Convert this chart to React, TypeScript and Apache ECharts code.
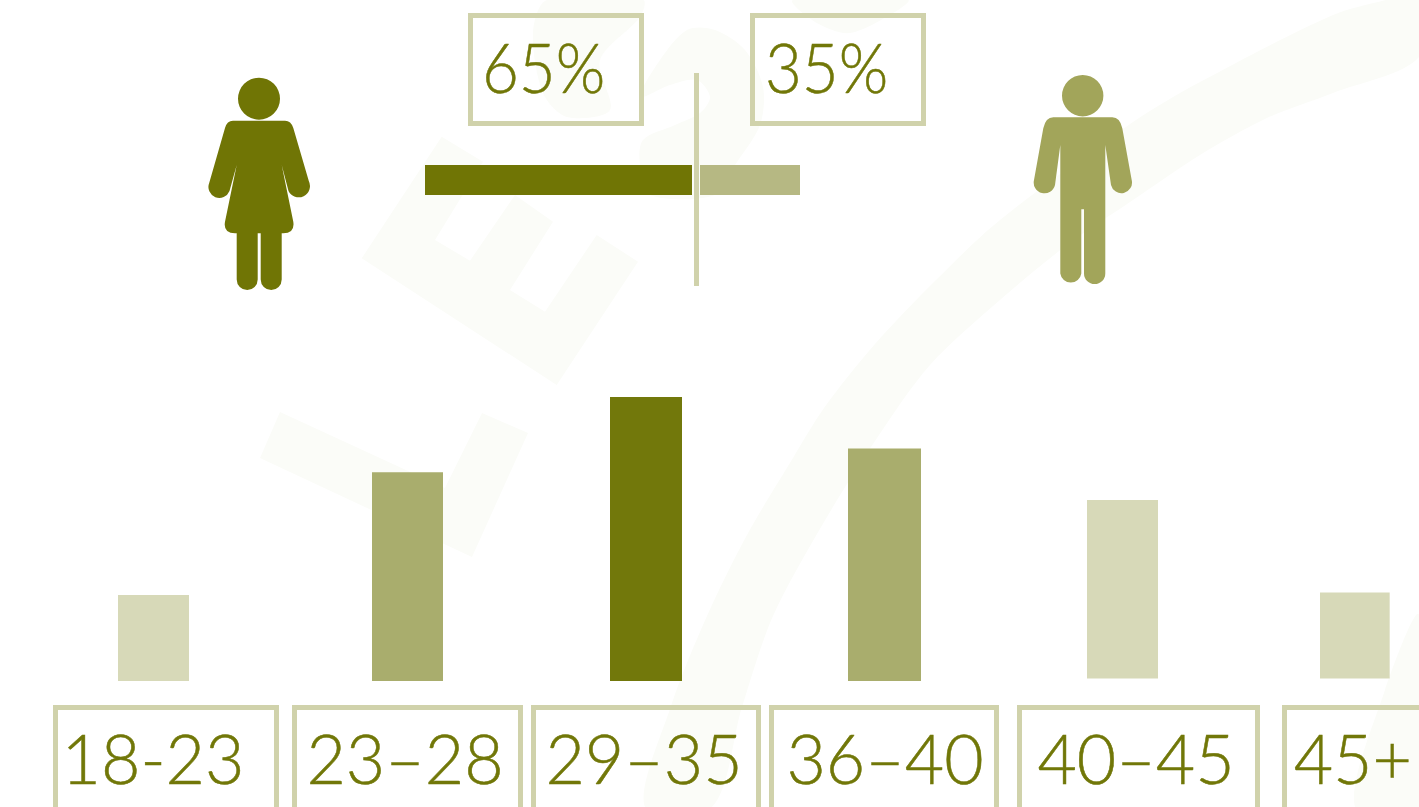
import React, { useEffect, useRef } from "react";
import * as echarts from "echarts";

const ageCategories = ["18-23", "23–28", "29–35", "36–40", "40–45", "45+"];
const ageShares = [8.0, 19.4, 26.4, 21.6, 16.6, 8.0];
const genderLabels = ["Female", "Male"];
const genderShares = [65, 35];

// layout (pixels)
const AGE_MAX = 30;
const PX_PER_UNIT = 10.76;
const barLeft = [118, 372, 610, 848, 1087, 1320];
const barWidth = [71, 71, 72, 73, 71, 71];
const barBase = [681, 681, 681, 681, 678.5, 678.5];
const labelShift = [-0.5, -2.5, -2, 0.5, 13.5, -2];
const ageBoxes = [[53, 279], [292, 523], [531, 761], [769, 999], [1017, 1260], [1282, 1460]];
const ageColors = ["#d7d9b8", "#a9ad6d", "#72780b", "#a9ad6d", "#d7d9b8", "#d7d9b8"];

const OLIVE = "#717708";
const BORDER = "#d0d2ab";
const WATERMARK = "#fbfcf8";
const FONT = "Lato";
const FONT_SIZE = 68;

const womanPath =
  "M238 98.7a21 21 0 1 0 42 0a21 21 0 1 0 -42 0Z" +
  "M233 120.7L285 120.7Q291 120.7 293.3 128L308.8 181A10.7 10.7 0 0 1 288.5 191L281.7 165L293.3 221.7Q295 233.3 283.3 233.3L281.7 233.3L281.7 279.5A10.5 10.5 0 0 1 260.7 279.5L260.7 233.3L257.7 233.3L257.7 279.5A10.5 10.5 0 0 1 236.7 279.5L236.7 233.3L235 233.3Q223 233.3 225 221.7L236.7 165L229.5 191A10.7 10.7 0 0 1 209.2 183L225 128Q227 120.7 233 120.7Z";
const manPath =
  "M1062 95.7a20.7 20.7 0 1 0 41.4 0a20.7 20.7 0 1 0 -41.4 0Z" +
  "M1053.3 117.3L1112.3 117.3Q1120 117.3 1122.3 128.3L1131.7 180A10.3 10.3 0 0 1 1111 185L1105.3 145L1105.3 273.4A10.6 10.6 0 0 1 1084 273.4L1084 209.3L1081.3 209.3L1081.3 273.4A10.6 10.6 0 0 1 1060.3 273.4L1060.3 145L1055 185A10.3 10.3 0 0 1 1034 180L1043.3 128.3Q1045.6 117.3 1053.3 117.3Z";

echarts.graphic.registerShape("woman", echarts.graphic.extendPath(womanPath, {}));
echarts.graphic.registerShape("man", echarts.graphic.extendPath(manPath, {}));

const wmPolys: number[][][] = [
  // E
  [[441.7,136.7],[483,161.7],[435,240],[470,260.7],[515,195],[553,221.7],[510,290],[545,311.7],[596.7,235],[638,261.7],[556.7,385],[361.7,258.3]],
  // L
  [[280,412],[445,488],[482,413],[528,433],[472,557],[260,458]],
];
const wmSmooth: number[][][] = [
  // long arc
  [[1419,-10],[1393,-2],[1333,15],[1200,82],[1133,122],[1000,220],[936,280],[875,344],[824,408],[793,458],[747,535],[707,616],[671,706],[645,807],[712,807],[742,707],[773,616],[824,522],[875,441],[930,365],[1000,300],[1067,245],[1133,200],[1200,155],[1267,118],[1333,93],[1419,57]],
  // bottom right
  [[1419,615],[1385,690],[1355,807],[1419,807]],
  // swirl
  [[640,97],[660,60],[687,30],[715,30],[745,50],[763,87],[760,125],[735,165],[715,195],[650,195],[640,165],[643,140],[675,125],[700,113],[710,97],[697,80],[670,85]],
  [[547,0],[533,33],[543,93],[567,117],[610,110],[600,60],[640,17],[643,0]],
  [[793,0],[817,23],[850,33],[893,13],[908,0]],
];

function buildOption() {
  const grids: any[] = [];
  const xAxes: any[] = [];
  const yAxes: any[] = [];
  const series: any[] = [];

  const hidden = { show: false };
  // gender bars
  genderShares.forEach((v, i) => {
    grids.push({ left: i === 0 ? 425 : 700, width: i === 0 ? 267 : 100, top: 165, height: 30 });
    xAxes.push({ type: "value", gridIndex: i, min: 0, max: v, inverse: i === 0, show: false });
    yAxes.push({ type: "category", gridIndex: i, data: [genderLabels[i]], show: false });
    series.push({
      type: "bar", xAxisIndex: i, yAxisIndex: i, data: [v], barWidth: "100%",
      itemStyle: { color: i === 0 ? "#707505" : "#b6b883" }, silent: true,
    });
  });
  // age bars
  ageCategories.forEach((c, i) => {
    const g = i + 2;
    const height = AGE_MAX * PX_PER_UNIT;
    const s = labelShift[i];
    grids.push({ left: barLeft[i], width: barWidth[i], top: barBase[i] - height, height });
    xAxes.push({
      type: "category", gridIndex: g, data: [c],
      axisLine: hidden, axisTick: hidden,
      axisLabel: {
        show: true, interval: 0, color: OLIVE, fontFamily: FONT, fontWeight: 300, fontSize: FONT_SIZE,
        textBorderColor: OLIVE, textBorderWidth: 0.5,
        margin: 36.5 + (681 - barBase[i]), lineHeight: 80, hideOverlap: false,
        padding: s >= 0 ? [0, 0, 0, 2 * s] : [0, -2 * s, 0, 0],
      },
    });
    yAxes.push({ type: "value", gridIndex: g, min: 0, max: AGE_MAX, show: false });
    series.push({
      type: "bar", xAxisIndex: g, yAxisIndex: g, data: [ageShares[i]], barWidth: "100%",
      itemStyle: { color: ageColors[i] }, silent: true,
    });
  });

  const box = (l: number, r: number, t: number, b: number) => ({
    type: "rect",
    shape: { x: l + 2.5, y: t + 2.5, width: r - l - 5, height: b - t - 5 },
    style: { fill: "none", stroke: BORDER, lineWidth: 5 },
  });
  const pct = (text: string, x: number) => ({
    type: "text",
    x,
    y: 66.5,
    scaleX: 0.935,
    style: {
      text, x: 0, y: 0, fill: OLIVE, fontFamily: FONT, fontWeight: 300, fontSize: FONT_SIZE,
      stroke: OLIVE, lineWidth: 0.5,
      textAlign: "left", textVerticalAlign: "middle",
    },
  });

  const graphic = [
    ...wmPolys.map((p) => ({ type: "polygon", shape: { points: p }, style: { fill: WATERMARK } })),
    ...wmSmooth.map((p) => ({ type: "polygon", shape: { points: p, smooth: 0.3 }, style: { fill: WATERMARK } })),
    box(468, 644, 13, 126),
    box(750, 926, 13, 126),
    ...ageBoxes.map(([l, r]) => box(l, r, 705, 860)),
    { type: "rect", shape: { x: 694, y: 73, width: 5, height: 213 }, style: { fill: BORDER } },
    { type: "woman", x: 0, y: 0, style: { fill: "#707505" } },
    { type: "man", x: 0, y: 0, style: { fill: "#a2a55a" } },
    pct(`${genderShares[0]}%`, 482),
    pct(`${genderShares[1]}%`, 765),
  ];

  return {
    animation: false,
    backgroundColor: "#ffffff",
    grid: grids,
    xAxis: xAxes,
    yAxis: yAxes,
    series,
    graphic,
  };
}

export default function App() {
  const ref = useRef<HTMLDivElement>(null);
  useEffect(() => {
    document.body.style.margin = "0";
    document.body.style.overflow = "hidden";
    const chart = echarts.init(ref.current!, undefined, { renderer: "svg" });
    chart.setOption(buildOption() as any);
    return () => chart.dispose();
  }, []);
  return <div ref={ref} style={{ width: 1419, height: 807, overflow: "hidden" }} />;
}
